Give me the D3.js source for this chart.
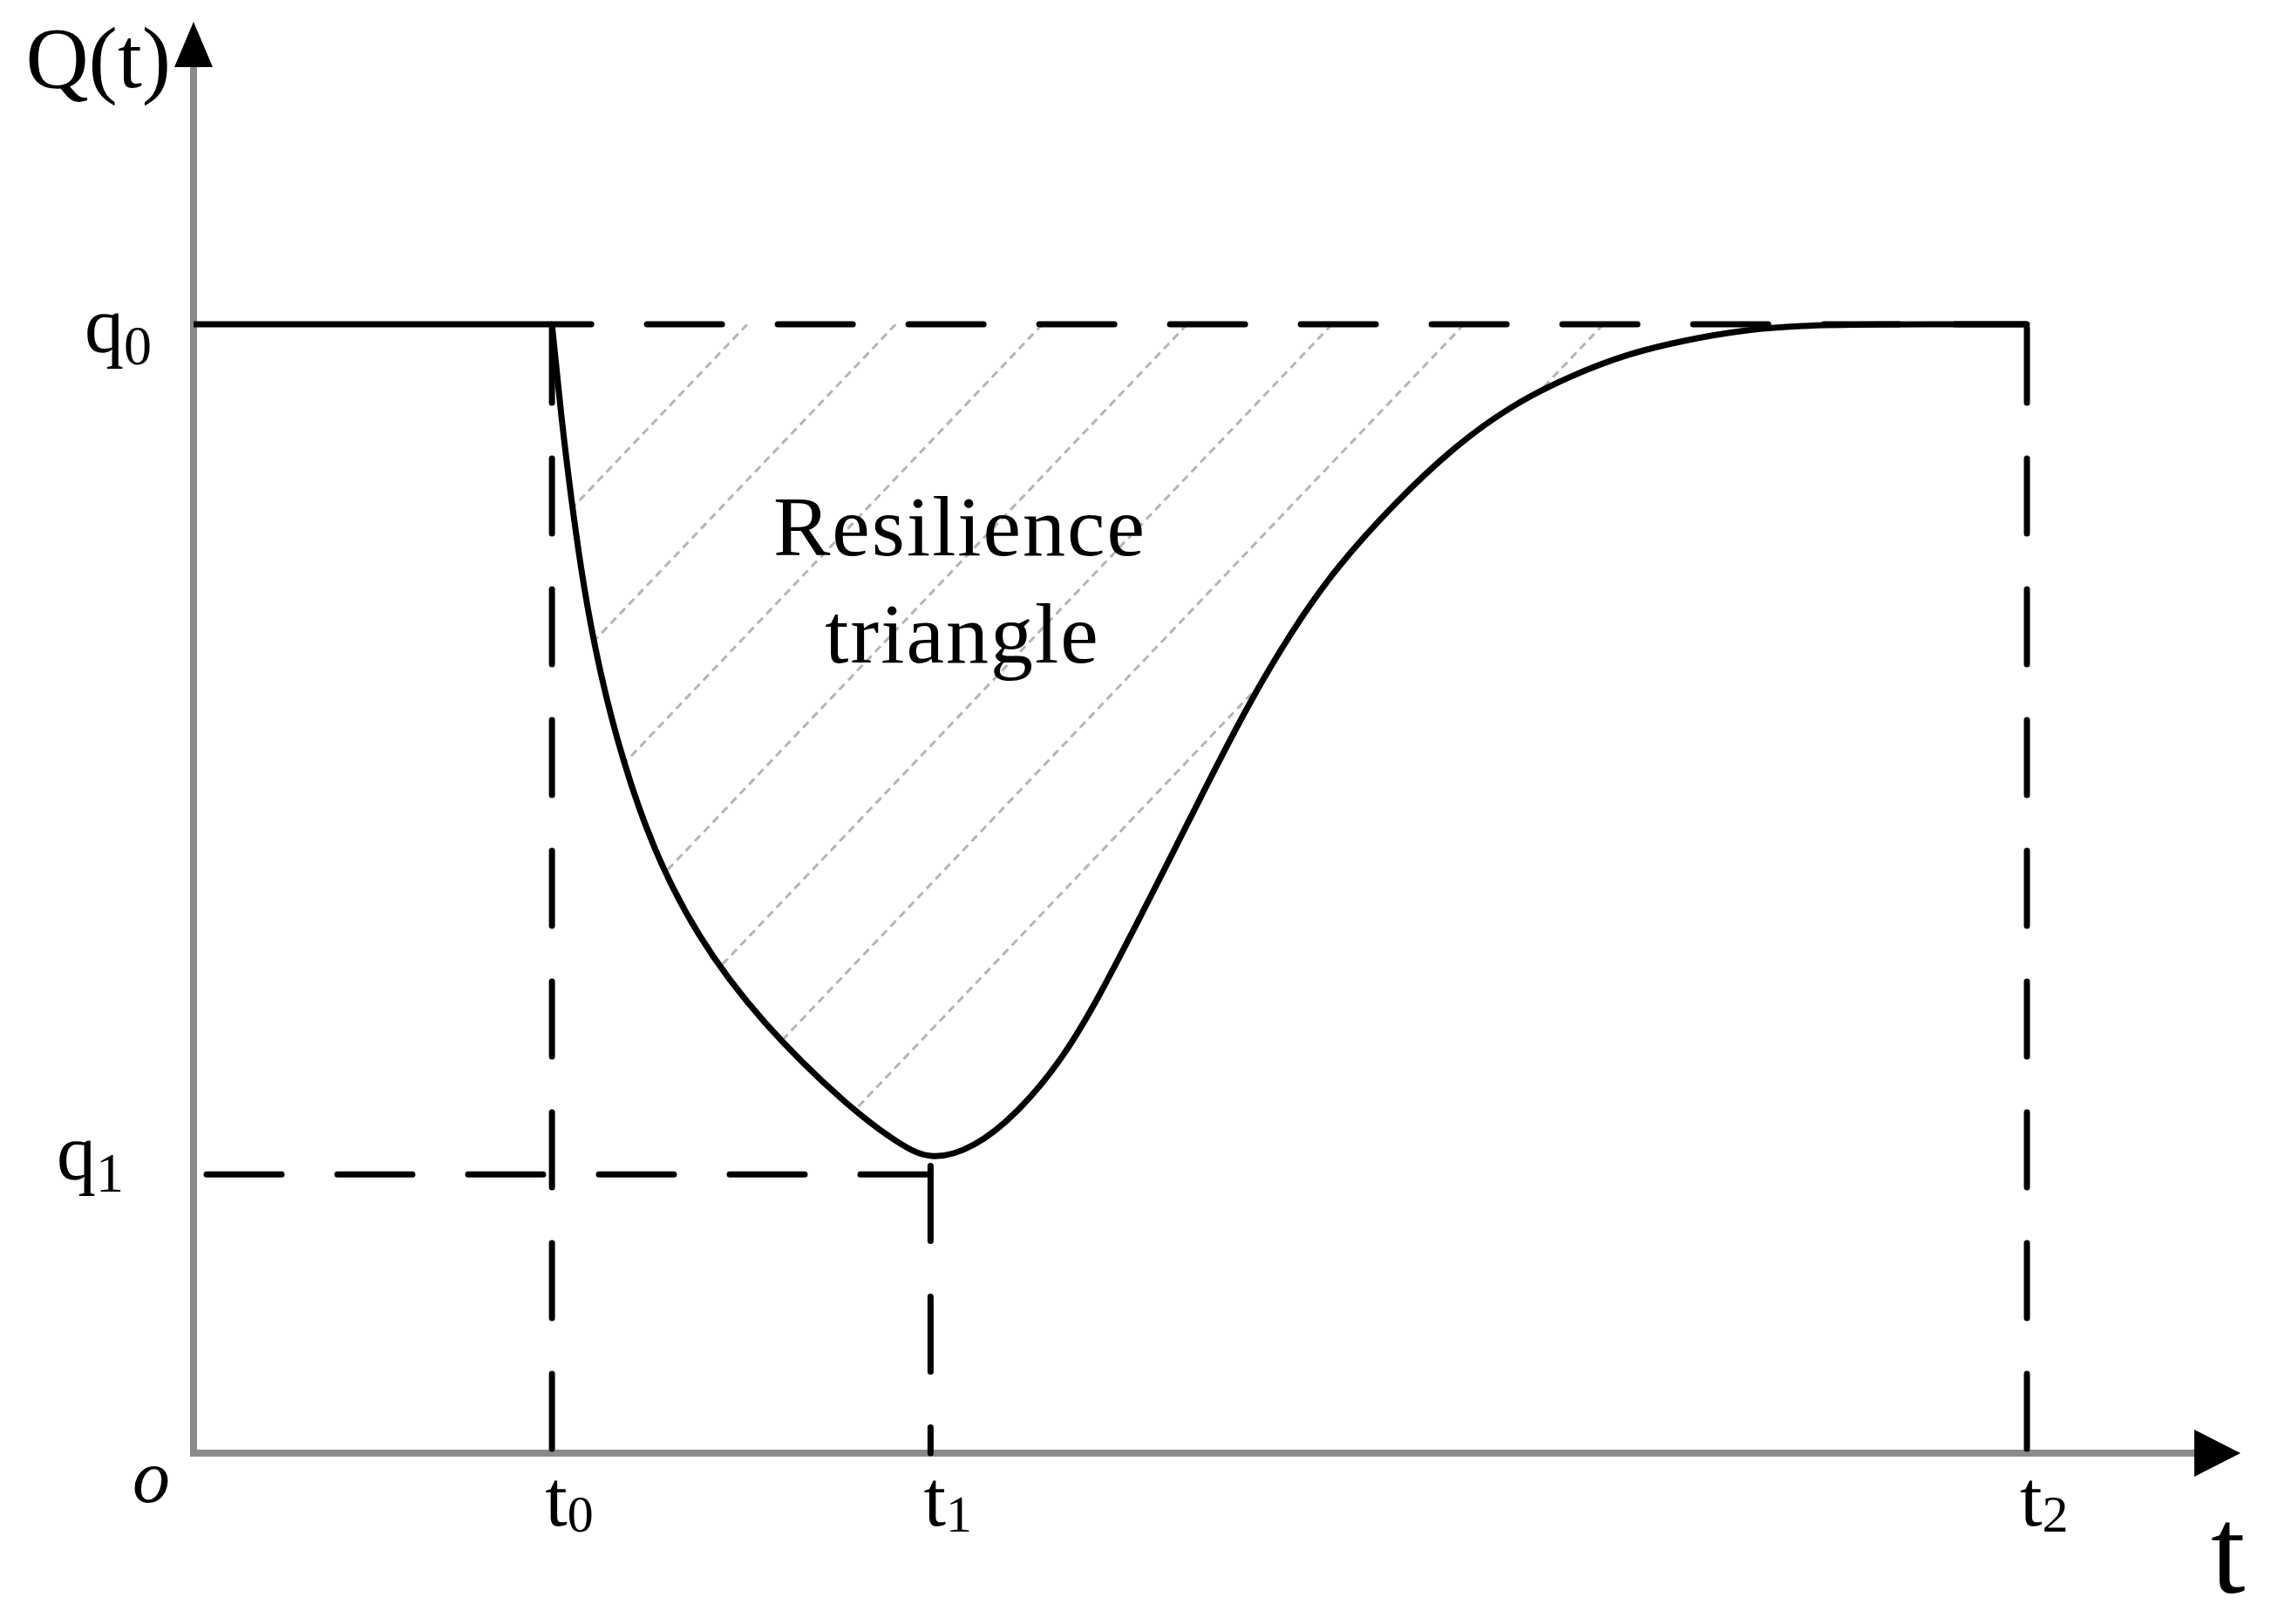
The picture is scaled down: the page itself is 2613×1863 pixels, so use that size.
<!DOCTYPE html>
<html>
  <head>
    <meta charset="utf-8">
    <style>
      body { margin: 0; background: #fff; }
      text { font-family: "Liberation Serif", "DejaVu Serif", serif; fill: #000; }
      .axis { stroke: #8a8a8a; stroke-width: 8; fill: none; }
      .guide { stroke: #000; stroke-width: 7; fill: none; stroke-linecap: round; stroke-dasharray: 86 64; }
      .hatch { stroke: #b5b5b5; stroke-width: 3; fill: none; stroke-dasharray: 9 6; }
      .curve { stroke: #000; stroke-width: 7; fill: none; stroke-linejoin: round; }
    </style>
  </head>
  <body>
    <script src="https://cdn.jsdelivr.net/npm/d3@7"></script>
    <script>
      // time marks on the t axis
      var tickNames = ["0", "1", "2"];
      var tickValues = [19.55, 40.2, 100];

      // performance levels on the Q(t) axis
      var levelNames = ["0", "1"];
      var levelValues = [1, 0.247];

      // Q(t), from the disruption at t0 back to full recovery
      var curveT = [19.55, 20.02, 20.59, 21.26, 22.16, 23.39, 25.01, 27.39, 30.91, 35.81, 38.56, 40.23,
                    42.56, 44.94, 47.31, 49.22, 51.26, 53.30, 55.21, 57.58, 59.96, 62.34, 65.53,
                    68.71, 71.85, 75.04, 78.22, 81.36, 84.55, 87.73, 90.87, 100];
      var curveQ = [1.0, 0.923, 0.846, 0.768, 0.691, 0.614, 0.537, 0.459, 0.382, 0.305, 0.273, 0.259,
                    0.270, 0.301, 0.347, 0.399, 0.463, 0.528, 0.590, 0.665, 0.730, 0.785, 0.842,
                    0.891, 0.928, 0.954, 0.974, 0.986, 0.995, 0.999, 1.0, 1.0];

      // where the hatch lines leave the q0 line
      var hatchStarts = [30.2, 38.3, 46.3, 54.2, 62.1, 69.3, 76.9];

      var xMax = 111.65, yMax = 1.268;

      var width = 2613, height = 1863;

      var x = d3.scaleLinear().domain([0, 100]).range([222, 2325]);
      var y = d3.scaleLinear().domain([0, 1]).range([1667, 372]);

      var svg = d3.select("body").append("svg")
          .attr("width", width)
          .attr("height", height);

      svg.append("rect").attr("width", width).attr("height", height).attr("fill", "#fff");

      var pts = curveT.map(function(t, i) { return {t: t, q: curveQ[i]}; });
      var smooth = d3.curveBasis;

      // region between q0 and the curve, used to clip the hatching
      var area = d3.area()
          .x(function(d) { return x(d.t); })
          .y0(y(levelValues[0]))
          .y1(function(d) { return y(d.q); })
          .curve(smooth);

      svg.append("clipPath").attr("id", "tri")
          .append("path").attr("d", area(pts));

      var slope = 1.05, drop = 1100;
      svg.append("g").attr("clip-path", "url(#tri)")
          .selectAll("line").data(hatchStarts).enter().append("line")
          .attr("class", "hatch")
          .attr("x1", function(d) { return x(d); })
          .attr("y1", y(levelValues[0]))
          .attr("x2", function(d) { return x(d) - drop / slope; })
          .attr("y2", y(levelValues[0]) + drop);

      // axes
      svg.append("line").attr("class", "axis")
          .attr("x1", x(0)).attr("y1", y(0))
          .attr("x2", x(0)).attr("y2", y(yMax) + 40);
      svg.append("line").attr("class", "axis")
          .attr("x1", x(0) - 4).attr("y1", y(0))
          .attr("x2", x(xMax) - 40).attr("y2", y(0));

      svg.append("path")
          .attr("d", "M" + x(0) + "," + y(yMax) + "l22,52l-44,0z")
          .attr("fill", "#000");
      svg.append("path")
          .attr("d", "M" + x(xMax) + "," + y(0) + "l-53,-27l0,54z")
          .attr("fill", "#000");

      // dashed guides
      var t0 = tickValues[0], t1 = tickValues[1], t2 = tickValues[2];
      var q0 = levelValues[0], q1 = levelValues[1];
      var qMin = d3.min(curveQ);

      svg.append("line").attr("class", "guide")
          .attr("x1", x(t0)).attr("y1", y(q0))
          .attr("x2", x(t2)).attr("y2", y(q0))
          .attr("stroke-dashoffset", 41);
      svg.append("line").attr("class", "guide")
          .attr("x1", x(0) + 15).attr("y1", y(q1))
          .attr("x2", x(t1)).attr("y2", y(q1));
      svg.append("line").attr("class", "guide")
          .attr("x1", x(t0)).attr("y1", y(q0) + 4)
          .attr("x2", x(t0)).attr("y2", y(0));
      svg.append("line").attr("class", "guide")
          .attr("x1", x(t1)).attr("y1", y(qMin) + 6)
          .attr("x2", x(t1)).attr("y2", y(0));
      svg.append("line").attr("class", "guide")
          .attr("x1", x(t2)).attr("y1", y(q0) + 4)
          .attr("x2", x(t2)).attr("y2", y(0));

      // normal service before t0, then the resilience curve
      svg.append("line").attr("class", "curve")
          .attr("x1", x(0)).attr("y1", y(q0))
          .attr("x2", x(t0)).attr("y2", y(q0))
          .attr("stroke-width", 8);

      var line = d3.line()
          .x(function(d) { return x(d.t); })
          .y(function(d) { return y(d.q); })
          .curve(smooth);

      svg.append("path").attr("class", "curve").attr("d", line(pts));

      // labels
      svg.append("text")
          .attr("x", x(0) - 26).attr("y", y(yMax) + 75)
          .attr("text-anchor", "end")
          .style("font-size", "100px")
          .text("Q(t)");

      var levelShift = [{dx: -48, dy: 32}, {dx: -80, dy: 6}];
      levelValues.forEach(function(v, i) {
          var lab = svg.append("text")
              .attr("x", x(0) + levelShift[i].dx)
              .attr("y", y(v) + levelShift[i].dy)
              .attr("text-anchor", "end")
              .style("font-size", "90px");
          lab.append("tspan").text("q");
          lab.append("tspan").attr("dy", 14).style("font-size", "64px").text(levelNames[i]);
      });

      tickValues.forEach(function(v, i) {
          var lab = svg.append("text")
              .attr("x", x(v) - 8)
              .attr("y", y(0) + 83)
              .style("font-size", "92px");
          lab.append("tspan").text("t");
          lab.append("tspan").attr("dy", 7).style("font-size", "60px").text(tickNames[i]);
      });

      svg.append("text")
          .attr("x", x(0) - 70).attr("y", y(0) + 56)
          .style("font-size", "86px")
          .style("font-style", "italic")
          .text("o");

      svg.append("text")
          .attr("x", x(xMax) - 34).attr("y", y(0) + 160)
          .style("font-size", "142px")
          .text("t");

      var note = svg.append("text")
          .attr("text-anchor", "middle")
          .style("font-size", "98px")
          .style("letter-spacing", "2px");
      note.append("tspan").attr("x", 1101).attr("y", 637).text("Resilience");
      note.append("tspan").attr("x", 1104).attr("y", 760).text("triangle");
    </script>
  </body>
</html>
